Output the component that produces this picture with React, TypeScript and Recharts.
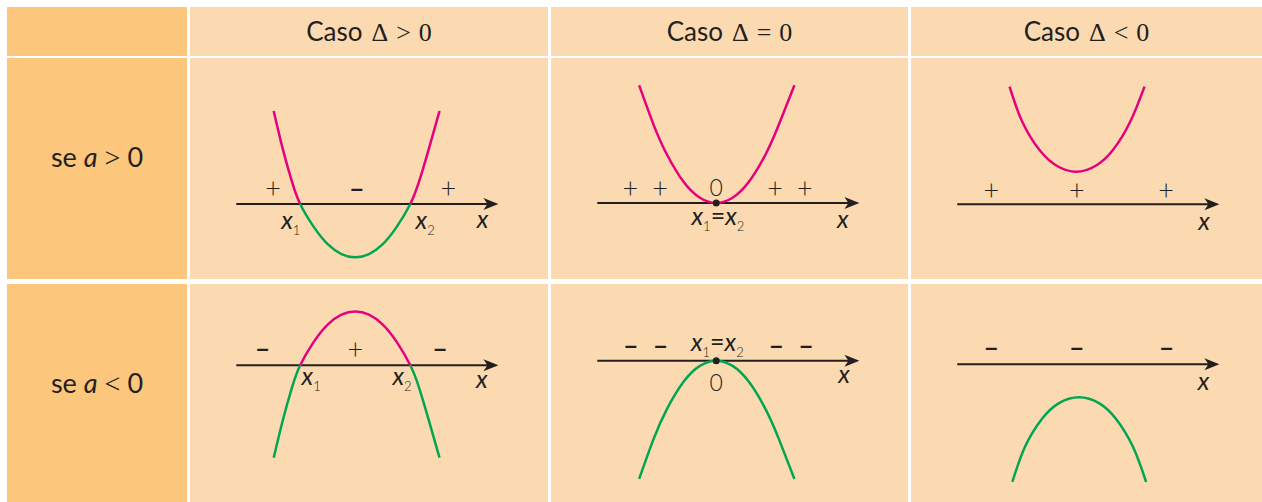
import React from "react";
import { ComposedChart, Line, Scatter, XAxis, YAxis, ReferenceLine, ReferenceDot } from "recharts";

const INK = "#231F20";
const PINK = "#E5007E";
const GREEN = "#00A651";
const ORANGE = "#FCC67C";
const PEACH = "#FCDAB1";
const SANS = "Lato, 'Noto Sans', sans-serif";
const SERIF = "'Liberation Serif', 'DejaVu Serif', serif";

const caseHeaders = [["Δ", ">", "0"], ["Δ", "=", "0"], ["Δ", "<", "0"]];
const signHeaders = [">", "<"];

// Δ > 0 : two roots
const xsTwoRoots = [-1.48, -1.31, -1.15, -1.0, -0.75, -0.5, -0.25, 0, 0.25, 0.5, 0.75, 1.0, 1.16, 1.33, 1.53];
const ysTwoRootsUp = [1.69, 0.98, 0.41, 0, -0.42, -0.73, -0.91, -0.97, -0.91, -0.73, -0.42, 0, 0.41, 0.98, 1.69];
const ysTwoRootsDown = [-1.68, -0.98, -0.41, 0, 0.43, 0.74, 0.92, 0.98, 0.92, 0.74, 0.43, 0, -0.41, -0.98, -1.68];

// Δ = 0 : one root
const xsOneRoot = [-1.4, -1.14, -0.9, -0.59, -0.29, 0, 0.29, 0.59, 0.9, 1.14, 1.42];
const ysOneRootUp = [2.14, 1.43, 0.89, 0.38, 0.09, 0, 0.09, 0.38, 0.89, 1.43, 2.14];
const ysOneRootDown = [-2.15, -1.43, -0.89, -0.38, -0.09, 0, -0.09, -0.38, -0.89, -1.43, -2.15];

// Δ < 0 : no roots
const xsNoRootUp = [-1.21, -0.98, -0.67, -0.37, 0, 0.37, 0.67, 0.98, 1.24];
const ysNoRootUp = [2.14, 1.5, 0.99, 0.71, 0.59, 0.71, 0.99, 1.5, 2.14];
const xsNoRootDown = [-1.16, -0.93, -0.62, -0.32, 0.05, 0.42, 0.72, 1.03, 1.27];
const ysNoRootDown = [-2.14, -1.5, -0.99, -0.71, -0.6, -0.71, -0.99, -1.5, -2.14];

// sign and root labels, "_n" = subscript
const labelsTwoRootsUp = [
  { x: -1.49, y: 0.25, text: "+" },
  { x: 0.03, y: 0.25, text: "–" },
  { x: 1.69, y: 0.25, text: "+" },
  { x: -1.17, y: -0.35, text: "x_1" },
  { x: 1.27, y: -0.35, text: "x_2" },
  { x: 2.31, y: -0.33, text: "x" },
];
const labelsOneRootUp = [
  { x: -1.56, y: 0.23, text: "+" },
  { x: -1.02, y: 0.23, text: "+" },
  { x: 0, y: 0.28, text: "0" },
  { x: 1.07, y: 0.23, text: "+" },
  { x: 1.61, y: 0.23, text: "+" },
  { x: 0.03, y: -0.29, text: "x_1=x_2" },
  { x: 2.3, y: -0.35, text: "x" },
];
const labelsNoRootUp = [
  { x: -1.54, y: 0.23, text: "+" },
  { x: 0.01, y: 0.23, text: "+" },
  { x: 1.63, y: 0.23, text: "+" },
  { x: 2.32, y: -0.36, text: "x" },
];
const labelsTwoRootsDown = [
  { x: -1.68, y: 0.28, text: "–" },
  { x: 0, y: 0.27, text: "+" },
  { x: 1.54, y: 0.28, text: "–" },
  { x: -0.8, y: -0.25, text: "x_1" },
  { x: 0.85, y: -0.25, text: "x_2" },
  { x: 2.3, y: -0.3, text: "x" },
];
const labelsOneRootDown = [
  { x: -1.55, y: 0.25, text: "–" },
  { x: -1.01, y: 0.25, text: "–" },
  { x: 0.02, y: 0.29, text: "x_1=x_2" },
  { x: 1.09, y: 0.25, text: "–" },
  { x: 1.63, y: 0.25, text: "–" },
  { x: 0, y: -0.4, text: "0" },
  { x: 2.32, y: -0.3, text: "x" },
];
const labelsNoRootDown = [
  { x: -1.54, y: 0.28, text: "–" },
  { x: 0.01, y: 0.28, text: "–" },
  { x: 1.64, y: 0.28, text: "–" },
  { x: 2.31, y: -0.35, text: "x" },
];

const colLeft = [190, 551, 911];
const colWidth = [358, 357, 351];
const rowTop = [58, 284];
const rowHeight = [221, 218];

const cells = [
  { row: 0, col: 0, xs: xsTwoRoots, ys: ysTwoRootsUp, labels: labelsTwoRootsUp, domain: [-1.364, 2.655], dot: false },
  { row: 0, col: 1, xs: xsOneRoot, ys: ysOneRootUp, labels: labelsOneRootUp, domain: [-1.382, 2.636], dot: true },
  { row: 0, col: 2, xs: xsNoRootUp, ys: ysNoRootUp, labels: labelsNoRootUp, domain: [-1.36, 2.66], dot: false },
  { row: 1, col: 0, xs: xsTwoRoots, ys: ysTwoRootsDown, labels: labelsTwoRootsDown, domain: [-2.485, 1.478], dot: false },
  { row: 1, col: 1, xs: xsOneRoot, ys: ysOneRootDown, labels: labelsOneRootDown, domain: [-2.569, 1.395], dot: true },
  { row: 1, col: 2, xs: xsNoRootDown, ys: ysNoRootDown, labels: labelsNoRootDown, domain: [-2.504, 1.46], dot: false },
];

const AxisArrow = (props: any) => {
  const { x1, y1, x2, y2 } = props;
  return (
    <g>
      <line x1={x1} y1={y1} x2={x2 - 6} y2={y2} stroke={INK} strokeWidth={2} />
      <path d={`M${x2},${y2} L${x2 - 15},${y2 - 6} L${x2 - 11},${y2} L${x2 - 15},${y2 + 6} Z`} fill={INK} />
    </g>
  );
};

const MathLabel = (props: any) => {
  const { cx, cy, payload } = props;
  const text = String(payload.text);
  const hasX = text.includes("x");
  const fs = hasX ? 25 : text === "0" ? 23 : 27;
  const shift = hasX ? 0.25 : text === "+" ? 0.3 : text === "0" ? 0.36 : 0.3;
  const weight = hasX ? 400 : text === "–" ? 700 : 300;
  const parts: string[] = text.split(/(_\d|x)/).filter(Boolean);
  return (
    <text x={cx} y={cy + shift * fs} textAnchor="middle" fontFamily={SANS} fontSize={fs}
      fontWeight={weight} fill={INK}>
      {parts.map((p, i) => {
        if (p.startsWith("_")) {
          return <tspan key={i} fontSize={13} fontStyle="normal" fontWeight={300} dy={6}>{p.slice(1)}</tspan>;
        }
        const back = i > 0 && parts[i - 1].startsWith("_") ? -6 : undefined;
        return <tspan key={i} dy={back} fontStyle={p === "x" ? "italic" : "normal"}>{p}</tspan>;
      })}
    </text>
  );
};

function Graph({ cell, id }: { cell: any; id: number }) {
  const h = rowHeight[cell.row];
  const [lo, hi] = cell.domain;
  const rows = cell.xs.map((x: number, i: number) => ({ x, y: cell.ys[i] }));
  const allUp = cell.ys.every((v: number) => v >= 0);
  const allDown = cell.ys.every((v: number) => v <= 0);
  const stroke = allUp ? PINK : allDown ? GREEN : `url(#sign-${id})`;
  const split = hi / (hi - lo);
  return (
    <div style={{ position: "absolute", left: colLeft[cell.col], top: rowTop[cell.row] }}>
      <svg width={0} height={0} style={{ position: "absolute" }}>
        <defs>
          <linearGradient id={`sign-${id}`} gradientUnits="userSpaceOnUse" x1={0} y1={0} x2={0} y2={h}>
            <stop offset={split} stopColor={PINK} />
            <stop offset={split} stopColor={GREEN} />
          </linearGradient>
        </defs>
      </svg>
      <ComposedChart width={358} height={h} margin={{ top: 0, right: 0, bottom: 0, left: 0 }}>
        <XAxis type="number" dataKey="x" domain={[-3, 3.5]} allowDataOverflow hide />
        <YAxis type="number" domain={cell.domain} allowDataOverflow hide />
        <ReferenceLine segment={[{ x: -2.16, y: 0 }, { x: 2.6, y: 0 }]} shape={AxisArrow} />
        <Line data={rows} dataKey="y" type="natural" stroke={stroke} strokeWidth={2.5} dot={false}
          isAnimationActive={false} />
        <Scatter data={cell.labels} dataKey="y" shape={MathLabel} isAnimationActive={false} />
        {cell.dot && <ReferenceDot x={0} y={0} r={3.5} fill={INK} stroke="none" />}
      </ComposedChart>
    </div>
  );
}

export default function App() {
  return (
    <div style={{ position: "absolute", left: 0, top: 0, width: 1262, height: 502, overflow: "hidden", background: "#fff" }}>
      {/* left column */}
      <div style={{ position: "absolute", left: 7, top: 7, width: 180, height: 49, background: ORANGE }} />
      {rowTop.map((t, r) => (
        <div key={r} style={{ position: "absolute", left: 7, top: t, width: 180, height: rowHeight[r], background: ORANGE }} />
      ))}
      {signHeaders.map((s, r) => (
        <div key={s} style={{ position: "absolute", left: 7, width: 180, top: r === 0 ? 143 : 369, textAlign: "center",
          fontFamily: SANS, fontSize: 27, lineHeight: "27px", color: INK }}>
          se <i>a</i>
          <span style={{ fontFamily: SERIF, fontSize: 28, margin: "0 7px" }}>{s}</span>0
        </div>
      ))}
      {/* header + body cells */}
      {colLeft.map((l, c) => (
        <React.Fragment key={c}>
          <div style={{ position: "absolute", left: l, top: 7, width: colWidth[c], height: 49, background: PEACH }} />
          <div style={{ position: "absolute", left: l, top: 19, width: colWidth[c], textAlign: "center",
            fontSize: 26, lineHeight: "25px", color: INK, whiteSpace: "nowrap" }}>
            <span style={{ fontFamily: SANS }}>Caso</span>
            <span style={{ fontFamily: SERIF, marginLeft: 9 }}>{caseHeaders[c][0]}</span>
            <span style={{ fontFamily: SERIF, margin: "0 8px" }}>{caseHeaders[c][1]}</span>
            <span style={{ fontFamily: SERIF }}>{caseHeaders[c][2]}</span>
          </div>
          {rowTop.map((t, r) => (
            <div key={r} style={{ position: "absolute", left: l, top: t, width: colWidth[c], height: rowHeight[r], background: PEACH }} />
          ))}
        </React.Fragment>
      ))}
      {cells.map((cell, i) => <Graph key={i} id={i} cell={cell} />)}
    </div>
  );
}
